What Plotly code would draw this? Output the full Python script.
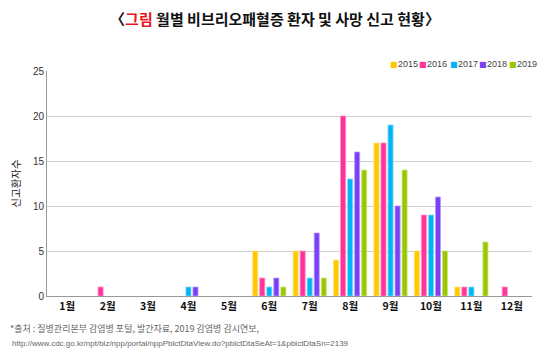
import plotly.graph_objects as go

months = ["1월", "2월", "3월", "4월", "5월", "6월", "7월", "8월", "9월", "10월", "11월", "12월"]
years = ["2015", "2016", "2017", "2018", "2019"]
v2015 = [0, 0, 0, 0, 0, 5, 5, 4, 17, 5, 1, 0]
v2016 = [0, 1, 0, 0, 0, 2, 5, 20, 17, 9, 1, 1]
v2017 = [0, 0, 0, 1, 0, 1, 2, 13, 19, 9, 1, 0]
v2018 = [0, 0, 0, 1, 0, 2, 7, 16, 10, 11, 0, 0]
v2019 = [0, 0, 0, 0, 0, 1, 2, 14, 14, 5, 6, 0]
series = [v2015, v2016, v2017, v2018, v2019]
colors = ["#FFC800", "#FF3399", "#00B4F5", "#7B3FF5", "#99C800"]
edge = ["#FFE27A", "#FF8CC4", "#7FD9FA", "#B79CFA", "#CCE47F"]

FONT = "Noto Sans CJK KR"
W, H = 550, 359
L, R, T, B = 47, 18, 71, 63

fig = go.Figure()
for y, vals, c, e in zip(years, series, colors, edge):
    fig.add_trace(go.Bar(x=months, y=vals, name=y, showlegend=False,
                         marker=dict(color=c, line=dict(color=e, width=[0.8 if v > 0 else 0 for v in vals]))))

fig.update_layout(
    width=W, height=H,
    margin=dict(l=L, r=R, t=T, b=B, autoexpand=False),
    paper_bgcolor="white", plot_bgcolor="white",
    barmode="group", bargap=0.13, bargroupgap=0.28,
    font=dict(family=FONT, color="#333"),
    title=dict(text="<b>〈<span style='color:#E8141B'>그림</span> 월별 비브리오패혈증 환자 및 사망 신고 현황〉</b>",
               x=0.5, xanchor="center", y=1 - 20 / H, yanchor="middle",
               font=dict(size=15, color="#111", family=FONT)),
)
fig.update_xaxes(showline=True, linecolor="#999", linewidth=1, ticks="", showgrid=False,
                 tickfont=dict(size=10.5, color="#111", family=FONT, weight="bold"))
fig.update_yaxes(range=[0, 25], dtick=5, showline=True, linecolor="#999", linewidth=1,
                 showgrid=True, gridcolor="#D0D0D0", gridwidth=1, zeroline=False,
                 tickfont=dict(size=10, color="#333", family="Liberation Sans"), ticks="",
                 title=dict(text="신고환자수", font=dict(size=10.5, color="#222", family=FONT), standoff=10))

# legend drawn as text annotations (compact, like the reference)
pw = W - L - R
ph = H - T - B
sq_x = [388, 417, 448, 477, 507]
ly = 1 + (T - 64) / ph
for y, c, px in zip(years, colors, sq_x):
    fig.add_annotation(text="■", xref="paper", yref="paper", x=(px - L) / pw, y=ly,
                       xanchor="left", yanchor="middle", showarrow=False,
                       font=dict(size=8, color=c, family="DejaVu Sans"))
    fig.add_annotation(text=y, xref="paper", yref="paper", x=(px + 8 - L) / pw, y=ly,
                       xanchor="left", yanchor="middle", showarrow=False,
                       font=dict(size=9, color="#444", family="Liberation Sans"))

fig.add_annotation(text="*출처 : 질병관리본부 감염병 포털, 발간자료, 2019 감염병 감시연보,",
                   xref="paper", yref="paper", x=(8 - L) / pw, y=-(328 - (H - B)) / ph,
                   xanchor="left", yanchor="middle", showarrow=False,
                   font=dict(size=9, color="#666", family=FONT))
fig.add_annotation(text="http://www.cdc.go.kr/npt/biz/npp/portal/nppPblctDtaView.do?pblctDtaSeAt=1&pblctDtaSn=2139",
                   xref="paper", yref="paper", x=(10 - L) / pw, y=-(343 - (H - B)) / ph,
                   xanchor="left", yanchor="middle", showarrow=False,
                   font=dict(size=8, color="#666", family="Liberation Sans"))

fig.write_html("out.html", config={"displayModeBar": False},
               post_script="document.body.style.margin='0';document.body.style.overflow='hidden';")
